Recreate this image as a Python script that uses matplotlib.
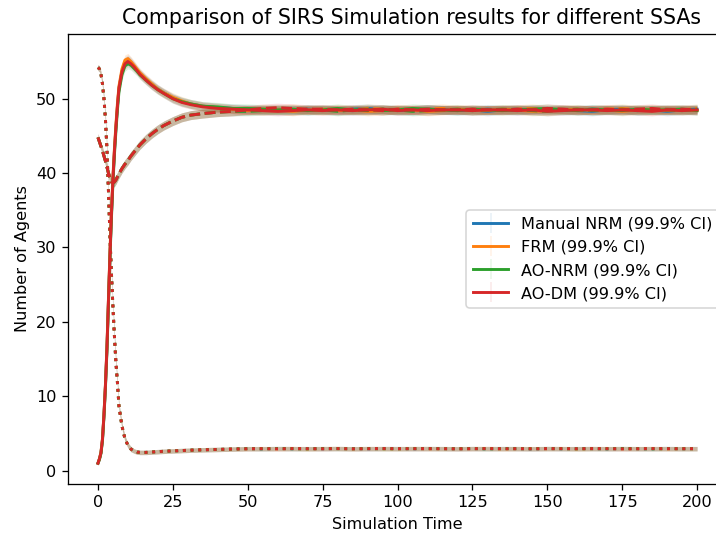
import numpy as np
import matplotlib
matplotlib.use('Agg')
import matplotlib.pyplot as plt
from matplotlib.lines import Line2D

# time grid: dense early phase, then plateau every 5 units
t_early = [0, 0.5, 1, 1.5, 2, 2.5, 3, 3.5, 4, 4.5, 5, 5.5, 6, 6.5, 7, 8, 9, 10,
           11, 12, 13, 14, 16, 18, 20, 22, 25, 28, 31, 35, 40, 45]
t_late = [50, 55, 60, 65, 70, 75, 80, 85, 90, 95, 100, 105, 110, 115, 120, 125,
          130, 135, 140, 145, 150, 155, 160, 165, 170, 175, 180, 185, 190, 195, 200]

labels = ['Manual NRM (99.9% CI)', 'FRM (99.9% CI)', 'AO-NRM (99.9% CI)', 'AO-DM (99.9% CI)']
colors = ['tab:blue', 'tab:orange', 'tab:green', 'tab:red']

# solid curve (infected), early phase per SSA
I_early = {
    'blue':   [1, 1.6, 2.4, 4.2, 7.5, 11.5, 16.5, 22.9, 29.0, 34.5, 39.2, 43.0, 46.2, 49.0,
               51.4, 53.7, 54.9, 55.2, 54.9, 54.4, 53.9, 53.4, 52.6, 51.9, 51.3, 50.8,
               50.1, 49.6, 49.3, 49.0, 48.8, 48.7],
    'orange': [1, 1.6, 2.5, 4.3, 7.6, 11.7, 16.8, 23.2, 29.4, 34.9, 39.6, 43.4, 46.6, 49.4,
               51.7, 54.0, 55.2, 55.4, 55.0, 54.5, 54.0, 53.5, 52.7, 52.0, 51.3, 50.8,
               50.2, 49.7, 49.3, 49.0, 48.8, 48.6],
    'green':  [1, 1.5, 2.3, 4.0, 7.2, 11.2, 16.1, 22.4, 28.5, 34.0, 38.7, 42.5, 45.7, 48.5,
               50.9, 53.2, 54.4, 54.7, 54.5, 54.1, 53.7, 53.2, 52.5, 51.8, 51.2, 50.7,
               50.0, 49.6, 49.3, 49.0, 48.9, 48.7],
    'red':    [1, 1.6, 2.4, 4.2, 7.5, 11.5, 16.5, 22.9, 29.0, 34.5, 39.2, 43.0, 46.2, 49.0,
               51.4, 53.6, 54.7, 55.0, 54.7, 54.3, 53.8, 53.3, 52.5, 51.8, 51.2, 50.7,
               50.0, 49.5, 49.2, 48.9, 48.7, 48.6],
}
# dashed curve (recovered) and dotted curve (susceptible), early phase
R_early = [44.8, 44.2, 43.6, 43.0, 42.3, 41.6, 40.8, 40.0, 39.3, 38.8, 38.7, 38.8, 39.1,
           39.5, 39.9, 40.6, 41.2, 41.7, 42.3, 42.8, 43.3, 43.8, 44.6, 45.3, 45.9, 46.4,
           47.0, 47.5, 47.8, 48.0, 48.2, 48.3]
S_early = [54.2, 54.0, 53.3, 52.0, 50.0, 47.2, 43.2, 37.5, 31.5, 26.5, 22.0, 18.0, 14.5,
           11.8, 8.7, 6.0, 4.3, 3.4, 2.9, 2.65, 2.5, 2.45, 2.45, 2.5, 2.55, 2.6, 2.65,
           2.7, 2.75, 2.8, 2.85, 2.9]

# plateau values per SSA
I_late = {
    'blue':   [48.6, 48.5, 48.4, 48.5, 48.6, 48.5, 48.4, 48.6, 48.7, 48.5, 48.4, 48.5, 48.6, 48.5, 48.4, 48.5,
               48.3, 48.5, 48.6, 48.4, 48.5, 48.6, 48.4, 48.3, 48.5, 48.6, 48.4, 48.5, 48.3, 48.5, 48.6],
    'orange': [48.4, 48.6, 48.5, 48.3, 48.5, 48.6, 48.4, 48.5, 48.3, 48.4, 48.6, 48.5, 48.3, 48.4, 48.6, 48.5,
               48.4, 48.6, 48.5, 48.3, 48.4, 48.5, 48.6, 48.4, 48.5, 48.3, 48.5, 48.6, 48.4, 48.5, 48.4],
    'green':  [48.7, 48.6, 48.5, 48.6, 48.4, 48.5, 48.7, 48.5, 48.6, 48.4, 48.5, 48.7, 48.6, 48.5, 48.4, 48.6,
               48.5, 48.4, 48.5, 48.6, 48.7, 48.5, 48.4, 48.6, 48.5, 48.4, 48.6, 48.5, 48.5, 48.6, 48.4],
    'red':    [48.5, 48.4, 48.3, 48.4, 48.5, 48.4, 48.5, 48.4, 48.5, 48.6, 48.4, 48.5, 48.4, 48.5, 48.5, 48.4,
               48.5, 48.5, 48.4, 48.5, 48.3, 48.4, 48.5, 48.5, 48.4, 48.5, 48.4, 48.3, 48.5, 48.4, 48.5],
}
R_late = {
    'blue':   [48.4, 48.5, 48.6, 48.5, 48.4, 48.6, 48.5, 48.4, 48.5, 48.6, 48.5, 48.4, 48.6, 48.5, 48.5, 48.4,
               48.6, 48.5, 48.4, 48.6, 48.5, 48.4, 48.5, 48.6, 48.5, 48.4, 48.5, 48.5, 48.6, 48.5, 48.4],
    'orange': [48.5, 48.4, 48.6, 48.7, 48.5, 48.4, 48.6, 48.5, 48.7, 48.6, 48.4, 48.5, 48.6, 48.7, 48.5, 48.4,
               48.5, 48.4, 48.6, 48.7, 48.5, 48.6, 48.4, 48.5, 48.6, 48.7, 48.5, 48.4, 48.6, 48.5, 48.7],
    'green':  [48.3, 48.4, 48.5, 48.4, 48.6, 48.5, 48.3, 48.5, 48.4, 48.6, 48.5, 48.3, 48.4, 48.5, 48.6, 48.4,
               48.5, 48.6, 48.5, 48.4, 48.3, 48.5, 48.6, 48.4, 48.5, 48.6, 48.4, 48.5, 48.5, 48.4, 48.6],
    'red':    [48.5, 48.7, 48.8, 48.7, 48.6, 48.6, 48.5, 48.6, 48.5, 48.4, 48.6, 48.5, 48.6, 48.5, 48.5, 48.6,
               48.5, 48.5, 48.6, 48.5, 48.7, 48.6, 48.5, 48.5, 48.6, 48.5, 48.6, 48.7, 48.5, 48.6, 48.5],
}
S_late = {
    'blue':   [2.95, 2.92, 2.98, 2.94, 2.96, 2.93, 2.97, 2.95, 2.93, 2.96, 2.98, 2.94, 2.95, 2.97, 2.93, 2.96,
               2.94, 2.98, 2.95, 2.92, 2.96, 2.94, 2.97, 2.95, 2.93, 2.96, 2.95, 2.94, 2.97, 2.95, 2.96],
    'orange': [2.93, 2.96, 2.94, 2.97, 2.92, 2.95, 2.98, 2.93, 2.96, 2.94, 2.95, 2.97, 2.93, 2.96, 2.94, 2.95,
               2.98, 2.93, 2.95, 2.96, 2.94, 2.97, 2.93, 2.95, 2.96, 2.94, 2.95, 2.97, 2.93, 2.96, 2.94],
    'green':  [2.96, 2.94, 2.97, 2.95, 2.93, 2.98, 2.95, 2.94, 2.97, 2.95, 2.93, 2.96, 2.98, 2.94, 2.95, 2.97,
               2.93, 2.95, 2.96, 2.94, 2.97, 2.95, 2.93, 2.96, 2.94, 2.98, 2.95, 2.93, 2.96, 2.94, 2.95],
    'red':    [2.94, 2.95, 2.93, 2.96, 2.95, 2.94, 2.96, 2.93, 2.95, 2.97, 2.94, 2.95, 2.96, 2.94, 2.93, 2.95,
               2.96, 2.94, 2.95, 2.93, 2.96, 2.95, 2.94, 2.96, 2.95, 2.93, 2.94, 2.96, 2.95, 2.94, 2.95],
}

# CI half-widths (early phase; plateau constant)
ci_I_early = [0.3, 0.35, 0.4, 0.5, 0.6, 0.7, 0.8, 0.9, 0.9, 0.9, 0.9, 0.85, 0.8, 0.75, 0.7,
              0.7, 0.7, 0.7, 0.65, 0.65, 0.6, 0.6, 0.6, 0.6, 0.6, 0.6, 0.6, 0.6, 0.6, 0.6, 0.6, 0.6]
ci_R_early = [0.5, 0.5, 0.5, 0.5, 0.55, 0.55, 0.55, 0.6, 0.6, 0.6, 0.6, 0.6, 0.6, 0.6, 0.6,
              0.6, 0.6, 0.6, 0.6, 0.6, 0.6, 0.6, 0.6, 0.6, 0.6, 0.6, 0.6, 0.6, 0.6, 0.6, 0.6, 0.6]
ci_S_early = [0.4, 0.4, 0.4, 0.45, 0.5, 0.55, 0.6, 0.65, 0.65, 0.65, 0.6, 0.6, 0.55, 0.5, 0.45,
              0.4, 0.4, 0.35, 0.35, 0.3, 0.3, 0.3, 0.3, 0.3, 0.3, 0.3, 0.3, 0.3, 0.3, 0.3, 0.3, 0.3]
ci_late = {'I': 0.6, 'R': 0.6, 'S': 0.3}

keys = ['blue', 'orange', 'green', 'red']
t = np.array(t_early + t_late)

fig = plt.figure(figsize=(716 / 116, 534 / 116), dpi=116)
ax = fig.add_axes([0.095, 0.0936, 0.9204, 0.8427])

handles = []
for k, c, lab in zip(keys, colors, labels):
    I = np.array(I_early[k] + I_late[k])
    R = np.array(R_early + R_late[k])
    S = np.array(S_early + S_late[k])
    ciI = np.array(ci_I_early + [ci_late['I']] * len(t_late))
    ciR = np.array(ci_R_early + [ci_late['R']] * len(t_late))
    ciS = np.array(ci_S_early + [ci_late['S']] * len(t_late))

    for y, ci, ls in [(I, ciI, '-'), (R, ciR, '--'), (S, ciS, ':')]:
        ax.fill_between(t, y - ci, y + ci, color=c, alpha=0.15, linewidth=0)
        ax.plot(t, y, color=c, linestyle=ls, linewidth=1.8)

    handles.append((Line2D([], [], color=c, linewidth=1.8),
                    Line2D([], [], color=c, alpha=0.1, marker='|', markersize=12, linestyle='none')))

ax.set_xlim(-10, 210)
ax.set_ylim(-1.8, 58.7)
ax.set_title('Comparison of SIRS Simulation results for different SSAs', fontsize=12.75, x=0.521)
ax.set_xlabel('Simulation Time')
ax.set_ylabel('Number of Agents')
ax.legend(handles, labels, loc='center right', handlelength=2.2)

fig.savefig('out.png', dpi=116)
